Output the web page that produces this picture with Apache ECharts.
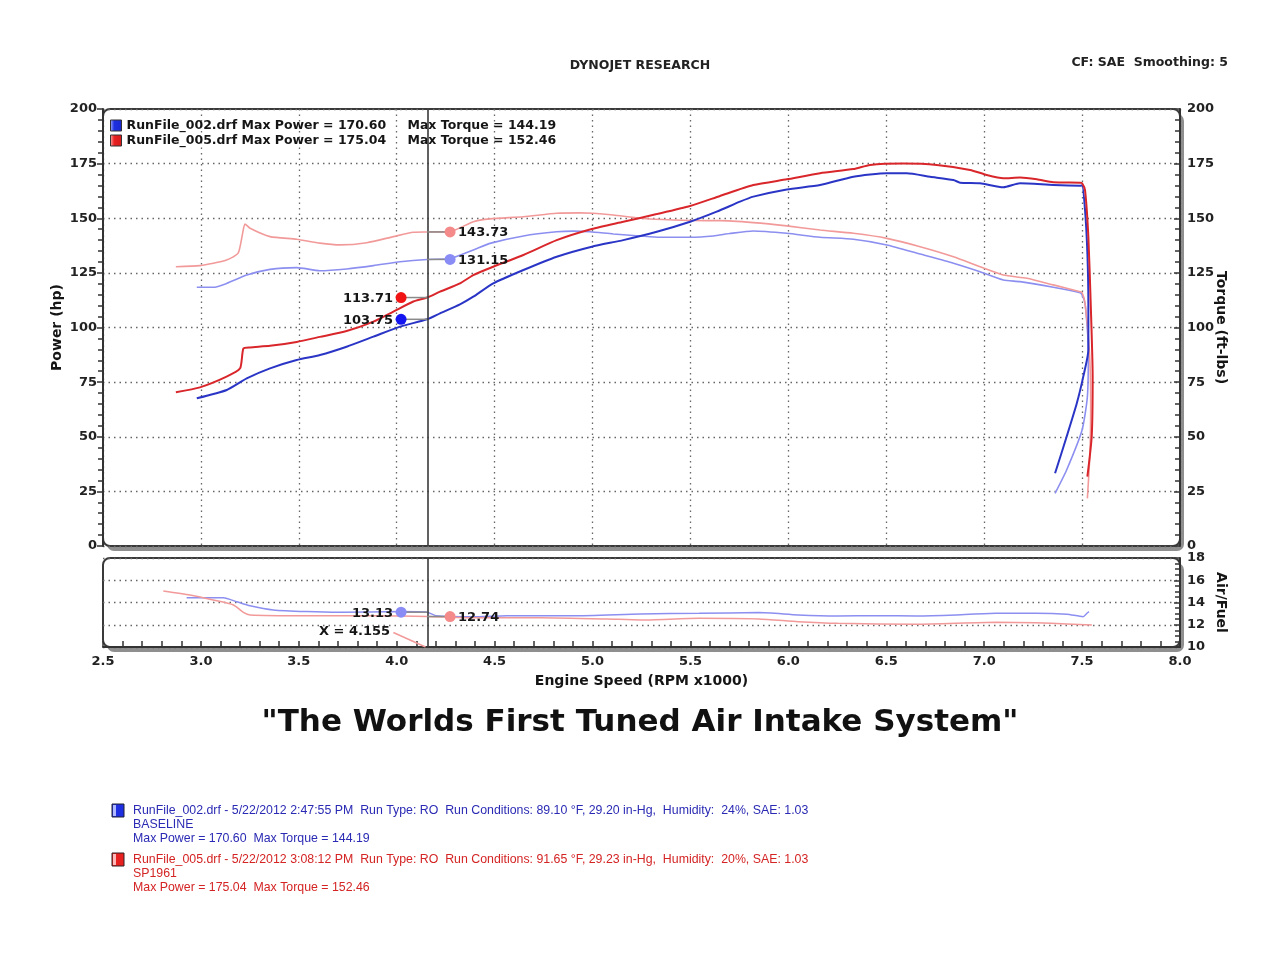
<!DOCTYPE html>
<html>
<head>
<meta charset="utf-8">
<script src="https://cdn.jsdelivr.net/npm/echarts@6/dist/echarts.min.js"></script>
<style>
html,body{margin:0;padding:0;background:#fff;}
#chart{width:1280px;height:960px;}
</style>
</head>
<body>
<div id="chart"></div>
<script>
// ---------------- DATA ----------------
const runFiles = ['RunFile_002.drf', 'RunFile_005.drf'];
const runLabels = ['BASELINE', 'SP1961'];
const runTimes = ['5/22/2012 2:47:55 PM', '5/22/2012 3:08:12 PM'];
const runTemps = ['89.10', '91.65'];
const runPressures = ['29.20', '29.23'];
const runHumidity = ['24%', '20%'];
const maxPower = [170.60, 175.04];
const maxTorque = [144.19, 152.46];

// [rpm x1000, hp]
const powerBaseline = [
  [2.979,67.6],[3.132,71.4],[3.234,76.7],[3.353,81.3],[3.489,85.1],[3.608,87.4],[3.744,91.2],
  [3.881,95.8],[4.017,100.4],[4.155,103.75],[4.221,106.5],[4.323,110.6],[4.391,114.1],[4.493,120.2],
  [4.647,126.3],[4.817,132.4],[4.996,137.0],[5.157,140.0],[5.328,143.8],[5.498,148.4],[5.634,153.0],
  [5.753,157.6],[5.821,159.9],[5.992,163.2],[6.162,165.2],[6.332,169.0],[6.503,170.6],[6.605,170.6],
  [6.724,169.0],[6.843,167.5],[6.877,166.3],[6.979,166.0],[7.098,164.2],[7.183,166.0],[7.353,165.2],
  [7.490,164.9],[7.500,165.0],[7.515,153.8],[7.527,134.0],[7.532,111.1],[7.532,89.7],[7.506,77.5],
  [7.473,65.3],[7.421,50.0],[7.362,33.3]
];
const powerSP1961 = [
  [2.872,70.4],[2.995,72.6],[3.131,77.5],[3.200,81.3],[3.217,90.4],[3.251,90.9],[3.353,91.6],
  [3.489,93.4],[3.608,95.7],[3.744,98.4],[3.881,102.7],[3.983,107.3],[4.085,111.9],[4.155,113.71],
  [4.221,116.4],[4.323,120.2],[4.391,124.0],[4.493,127.8],[4.647,133.2],[4.817,140.0],[4.996,145.1],
  [5.157,148.4],[5.328,151.9],[5.498,155.6],[5.651,160.2],[5.821,165.2],[5.992,167.8],[6.162,170.6],
  [6.332,172.5],[6.417,174.4],[6.587,175.04],[6.758,174.4],[6.928,172.1],[7.013,169.8],[7.098,168.3],
  [7.183,168.6],[7.269,167.8],[7.353,166.5],[7.490,166.3],[7.500,166.0],[7.515,162.9],[7.532,141.6],
  [7.544,111.1],[7.554,77.5],[7.549,50.0],[7.527,31.7]
];
// [rpm x1000, ft-lbs]
const torqueBaseline = [
  [2.979,118.4],[3.063,118.4],[3.132,120.2],[3.234,124.0],[3.353,126.6],[3.489,127.4],[3.608,126.0],
  [3.744,126.8],[3.881,128.3],[4.017,130.1],[4.155,131.15],[4.264,131.4],[4.391,135.5],[4.476,138.5],
  [4.647,141.9],[4.817,143.8],[4.902,144.1],[4.987,143.8],[5.106,142.8],[5.243,141.9],[5.345,141.3],
  [5.498,141.3],[5.617,141.9],[5.700,143.0],[5.821,144.19],[5.992,143.1],[6.162,141.3],[6.332,140.4],
  [6.503,137.8],[6.673,133.6],[6.843,129.4],[6.979,125.5],[7.098,121.7],[7.183,121.0],[7.353,118.4],
  [7.490,115.9],[7.500,114.9],[7.515,111.1],[7.527,98.9],[7.532,89.7],[7.527,68.3],[7.500,53.1],
  [7.421,34.8],[7.362,24.1]
];
const torqueSP1961 = [
  [2.872,127.8],[2.995,128.3],[3.131,130.9],[3.190,134.0],[3.213,143.1],[3.225,147.4],[3.251,145.4],
  [3.353,141.6],[3.489,140.4],[3.608,138.6],[3.710,137.8],[3.847,138.8],[3.983,141.6],[4.085,143.6],
  [4.155,143.73],[4.272,143.9],[4.391,148.4],[4.476,149.7],[4.647,150.7],[4.817,152.3],[4.936,152.46],
  [5.004,152.3],[5.106,151.5],[5.243,150.0],[5.413,149.2],[5.583,148.9],[5.651,148.9],[5.821,148.0],
  [5.992,146.5],[6.162,144.6],[6.332,143.1],[6.503,140.8],[6.673,137.0],[6.843,132.4],[6.979,127.8],
  [7.098,124.0],[7.218,122.5],[7.353,119.5],[7.490,116.4],[7.500,116.0],[7.515,111.1],[7.537,89.7],
  [7.544,65.3],[7.540,42.4],[7.527,21.8]
];
// [rpm x1000, air/fuel ratio]
const afrBaseline = [
  [2.927,14.43],[3.115,14.43],[3.183,14.07],[3.251,13.71],[3.370,13.33],[3.540,13.18],[3.710,13.12],
  [4.017,13.18],[4.155,13.13],[4.200,12.82],[4.391,12.72],[4.562,12.81],[4.902,12.81],[5.243,12.97],
  [5.545,13.03],[5.848,13.09],[6.050,12.88],[6.252,12.79],[6.454,12.81],[6.656,12.79],[6.858,12.88],
  [7.060,13.03],[7.262,13.03],[7.423,12.94],[7.505,12.73],[7.525,13.03],[7.535,13.18]
];
const afrSP1961 = [
  [2.808,15.03],[2.944,14.67],[3.063,14.22],[3.166,13.78],[3.217,13.12],[3.251,12.88],[3.540,12.81],
  [3.881,12.81],[4.155,12.74],[4.391,12.63],[4.732,12.63],[5.073,12.52],[5.243,12.43],[5.545,12.58],
  [5.848,12.52],[6.050,12.28],[6.252,12.13],[6.656,12.04],[7.060,12.22],[7.262,12.18],[7.423,12.07],
  [7.550,11.98]
];
const afrSP1961Tail = [[3.983,11.3],[4.147,10.0]];

// cursor readout
const cursorRpm = 4.155;
const cursorPower = [103.75, 113.71];   // baseline, SP1961
const cursorTorque = [131.15, 143.73];
const cursorAfr = [13.13, 12.74];

// axis ranges / ticks
const rpmRange = [2.5, 8.0, 0.5];
const mainRange = [0, 200, 25];
const afrRange = [10, 18, 2];

// ---------------- STYLE ----------------
const C = {
  powerB: '#2a35c6', powerS: '#d9262b',
  torqueB: '#8c8ff0', torqueS: '#f29a9a',
  afrB: '#8c8ff0', afrS: '#f29a9a',
  dotPowerB: '#1414f0', dotPowerS: '#f01414', dotTorqueB: '#8a8cf6', dotTorqueS: '#f58a8a'
};
const FONT = '"DejaVu Sans", Verdana, sans-serif';
const NOTE_FONT = '12.35px "Liberation Sans", Arial, sans-serif';
const G0 = {left: 103, top: 109, width: 1077, height: 437};
const G1 = {left: 103, top: 558, width: 1077, height: 89};
const dotted = {color: '#666', type: [1.5, 4], width: 1.3};
const axisLbl = {fontFamily: FONT, fontWeight: 'bold', fontSize: 13, color: '#222'};

const chart = echarts.init(document.getElementById('chart'), null, {renderer: 'canvas'});

function cursorItems(values, sides, colors) {
  return values.map((v, i) => ({value: [cursorRpm, v, sides[i]], color: colors[i]}));
}

function readoutSeries(name, xi, yi, items) {
  return {
    type: 'custom', name: name, xAxisIndex: xi, yAxisIndex: yi, z: 10, silent: true,
    data: items.map(d => ({value: d.value, itemStyle: {color: d.color}})),
    renderItem: function (params, api) {
      const x = api.value(0), y = api.value(1), side = api.value(2);
      const p = api.coord([x, y]);
      const off = side < 0 ? 26 : 23;
      const dx = p[0] + side * off;
      const col = api.visual('color');
      return {
        type: 'group', children: [
          {type: 'line', shape: {x1: p[0], y1: p[1], x2: dx, y2: p[1]}, style: {stroke: '#8a8a8a', lineWidth: 1.5}},
          {type: 'circle', shape: {cx: dx, cy: p[1], r: 5.5}, style: {fill: col}},
          {type: 'text', style: {text: y.toFixed(2), x: dx + side * 8, y: p[1] + 1,
            align: side < 0 ? 'right' : 'left', verticalAlign: 'middle',
            font: 'bold 13px ' + FONT, fill: '#151515'}}
        ]
      };
    }
  };
}

const cursorLine = {
  silent: true, symbol: ['none', 'none'], label: {show: false},
  lineStyle: {color: '#3a3a3a', type: 'solid', width: 1.6},
  data: [{xAxis: cursorRpm}], animation: false
};

function panel(g) {
  return [
    {type: 'rect', z: -11, shape: {x: g.left + 4, y: g.top + 5, width: g.width, height: g.height, r: 7},
     style: {fill: '#8f8f8f'}},
    {type: 'rect', z: -10, shape: {x: g.left, y: g.top, width: g.width, height: g.height, r: 7},
     style: {fill: '#fff', stroke: '#3a3a3a', lineWidth: 2}}
  ];
}

const nameStyle = {fontFamily: FONT, fontWeight: 'bold', fontSize: 14, color: '#151515'};

const option = {
  animation: false,
  backgroundColor: '#fff',
  title: [
    {text: 'DYNOJET RESEARCH', left: 'center', top: 54,
     textStyle: {fontFamily: FONT, fontWeight: 'bold', fontSize: 12.5, color: '#222'}},
    {text: 'CF: SAE  Smoothing: 5', right: 47, top: 51,
     textStyle: {fontFamily: FONT, fontWeight: 'bold', fontSize: 12.5, color: '#222'}},
    {text: '"The Worlds First Tuned Air Intake System"', left: 'center', top: 702,
     textStyle: {fontFamily: FONT, fontWeight: 'bold', fontSize: 31, color: '#111'}}
  ],
  legend: {
    left: 105, top: 114, orient: 'vertical', itemGap: 2, itemWidth: 11, itemHeight: 11,
    selectedMode: false,
    data: runFiles.map((n, i) => ({name: n, icon: 'rect',
      itemStyle: {color: new echarts.graphic.LinearGradient(0, 0, 1, 0, [
        {offset: 0, color: i === 0 ? '#a9b4ff' : '#ffb0b0'},
        {offset: 0.35, color: i === 0 ? '#1d2fe0' : '#e82020'},
        {offset: 1, color: i === 0 ? '#1a2ad0' : '#d61a1a'}]), borderColor: '#333', borderWidth: 1}})),
    formatter: function (name) {
      const i = runFiles.indexOf(name);
      return '{a|' + name + ' Max Power = ' + maxPower[i].toFixed(2) + '}{b|Max Torque = ' + maxTorque[i].toFixed(2) + '}';
    },
    textStyle: {
      fontFamily: FONT, fontWeight: 'bold', fontSize: 12.5, color: '#151515',
      rich: {
        a: {fontFamily: FONT, fontWeight: 'bold', fontSize: 12.5, color: '#151515', width: 281},
        b: {fontFamily: FONT, fontWeight: 'bold', fontSize: 12.5, color: '#151515'}
      }
    }
  },
  grid: [
    Object.assign({containLabel: false}, G0),
    Object.assign({containLabel: false}, G1)
  ],
  xAxis: [
    {gridIndex: 0, type: 'value', min: rpmRange[0], max: rpmRange[1], interval: rpmRange[2],
     axisLine: {show: false}, axisTick: {show: false}, axisLabel: {show: false},
     splitLine: {show: true, lineStyle: dotted}},
    {gridIndex: 1, type: 'value', min: rpmRange[0], max: rpmRange[1], interval: rpmRange[2],
     axisLine: {show: true, lineStyle: {color: '#333', width: 2}},
     axisTick: {show: true, inside: true, length: 6, lineStyle: {color: '#333', width: 1.5}},
     minorTick: {show: true, splitNumber: 5, length: 6, lineStyle: {color: '#333', width: 1.5}},
     axisLabel: Object.assign({margin: 8, formatter: v => v.toFixed(1)}, axisLbl),
     splitLine: {show: false},
     name: 'Engine Speed (RPM x1000)', nameLocation: 'middle', nameGap: 27, nameMoveOverlap: false,
     nameTextStyle: nameStyle}
  ],
  yAxis: [
    {gridIndex: 0, type: 'value', position: 'left', min: mainRange[0], max: mainRange[1], interval: mainRange[2],
     axisLine: {show: true, lineStyle: {color: '#333', width: 2}},
     axisTick: {show: true, length: 6, lineStyle: {color: '#333', width: 1.5}},
     minorTick: {show: true, splitNumber: 5, length: 5, lineStyle: {color: '#333', width: 1.5}},
     axisLabel: Object.assign({margin: 6}, axisLbl),
     splitLine: {show: true, lineStyle: dotted},
     name: 'Power (hp)', nameLocation: 'middle', nameGap: 39, nameRotate: 90, nameMoveOverlap: false,
     nameTextStyle: nameStyle},
    {gridIndex: 0, type: 'value', position: 'right', min: mainRange[0], max: mainRange[1], interval: mainRange[2],
     axisLine: {show: true, lineStyle: {color: '#333', width: 2}},
     axisTick: {show: true, length: 6, inside: true, lineStyle: {color: '#333', width: 1.5}},
     minorTick: {show: true, splitNumber: 5, length: 5, lineStyle: {color: '#333', width: 1.5}},
     axisLabel: Object.assign({margin: 7}, axisLbl),
     splitLine: {show: false},
     name: 'Torque (ft-lbs)', nameLocation: 'middle', nameGap: 34, nameRotate: -90, nameMoveOverlap: false,
     nameTextStyle: nameStyle},
    {gridIndex: 1, type: 'value', position: 'right', min: afrRange[0], max: afrRange[1], interval: afrRange[2],
     axisLine: {show: true, lineStyle: {color: '#333', width: 2}},
     axisTick: {show: true, length: 6, inside: true, lineStyle: {color: '#333', width: 1.5}},
     minorTick: {show: true, splitNumber: 4, length: 5, lineStyle: {color: '#333', width: 1.5}},
     axisLabel: Object.assign({margin: 7}, axisLbl),
     splitLine: {show: true, lineStyle: dotted},
     name: 'Air/Fuel', nameLocation: 'middle', nameGap: 34, nameRotate: -90, nameMoveOverlap: false,
     nameTextStyle: nameStyle}
  ],
  graphic: panel(G0).concat(panel(G1)).concat([
    // footer notes
    {type: 'rect', shape: {x: 112, y: 804, width: 12, height: 13}, style: {fill: '#1d2fe0', stroke: '#223', lineWidth: 1}},
    {type: 'rect', shape: {x: 113, y: 805, width: 3, height: 11}, style: {fill: '#b0b8ff'}},
    {type: 'rect', shape: {x: 112, y: 853, width: 12, height: 13}, style: {fill: '#e82020', stroke: '#322', lineWidth: 1}},
    {type: 'rect', shape: {x: 113, y: 854, width: 3, height: 11}, style: {fill: '#ffb8b8'}},
    {type: 'text', style: {x: 133, y: 811, verticalAlign: 'middle', fill: '#2a2ab4', font: NOTE_FONT,
      text: runFiles[0] + ' - ' + runTimes[0] + '  Run Type: RO  Run Conditions: ' + runTemps[0] + ' \u00B0F, ' + runPressures[0] + ' in-Hg,  Humidity:  ' + runHumidity[0] + ', SAE: 1.03'}},
    {type: 'text', style: {x: 133, y: 825, verticalAlign: 'middle', fill: '#2a2ab4', font: NOTE_FONT, text: runLabels[0]}},
    {type: 'text', style: {x: 133, y: 839, verticalAlign: 'middle', fill: '#2a2ab4', font: NOTE_FONT,
      text: 'Max Power = ' + maxPower[0].toFixed(2) + '  Max Torque = ' + maxTorque[0].toFixed(2)}},
    {type: 'text', style: {x: 133, y: 860, verticalAlign: 'middle', fill: '#d42424', font: NOTE_FONT,
      text: runFiles[1] + ' - ' + runTimes[1] + '  Run Type: RO  Run Conditions: ' + runTemps[1] + ' \u00B0F, ' + runPressures[1] + ' in-Hg,  Humidity:  ' + runHumidity[1] + ', SAE: 1.03'}},
    {type: 'text', style: {x: 133, y: 874, verticalAlign: 'middle', fill: '#d42424', font: NOTE_FONT, text: runLabels[1]}},
    {type: 'text', style: {x: 133, y: 888, verticalAlign: 'middle', fill: '#d42424', font: NOTE_FONT,
      text: 'Max Power = ' + maxPower[1].toFixed(2) + '  Max Torque = ' + maxTorque[1].toFixed(2)}}
  ]),
  series: [
    {name: runFiles[0], type: 'line', xAxisIndex: 0, yAxisIndex: 1, data: torqueBaseline, showSymbol: false, smooth: 0.2,
     lineStyle: {color: C.torqueB, width: 1.6}, itemStyle: {color: C.torqueB}, z: 3},
    {name: runFiles[1], type: 'line', xAxisIndex: 0, yAxisIndex: 1, data: torqueSP1961, showSymbol: false, smooth: 0.2,
     lineStyle: {color: C.torqueS, width: 1.6}, itemStyle: {color: C.torqueS}, z: 3},
    {name: runFiles[0], type: 'line', xAxisIndex: 0, yAxisIndex: 0, data: powerBaseline, showSymbol: false, smooth: 0.2,
     lineStyle: {color: C.powerB, width: 2}, itemStyle: {color: C.powerB}, z: 4, markLine: cursorLine},
    {name: runFiles[1], type: 'line', xAxisIndex: 0, yAxisIndex: 0, data: powerSP1961, showSymbol: false, smooth: 0.2,
     lineStyle: {color: C.powerS, width: 2}, itemStyle: {color: C.powerS}, z: 4},
    {name: 'afrB', type: 'line', xAxisIndex: 1, yAxisIndex: 2, data: afrBaseline, showSymbol: false, smooth: 0.2,
     lineStyle: {color: C.afrB, width: 1.5}, itemStyle: {color: C.afrB}, markLine: cursorLine},
    {name: 'afrS', type: 'line', xAxisIndex: 1, yAxisIndex: 2, data: afrSP1961, showSymbol: false, smooth: 0.2,
     lineStyle: {color: C.afrS, width: 1.5}, itemStyle: {color: C.afrS}},
    {name: 'afrSTail', type: 'line', xAxisIndex: 1, yAxisIndex: 2, data: afrSP1961Tail, showSymbol: false,
     lineStyle: {color: C.afrS, width: 1.5}, itemStyle: {color: C.afrS}},
    readoutSeries('powerReadout', 0, 0, cursorItems(cursorPower, [-1, -1], [C.dotPowerB, C.dotPowerS])),
    readoutSeries('torqueReadout', 0, 1, cursorItems(cursorTorque, [1, 1], [C.dotTorqueB, C.dotTorqueS])),
    readoutSeries('afrReadout', 1, 2, cursorItems(cursorAfr, [-1, 1], [C.dotTorqueB, C.dotTorqueS])),
    {type: 'custom', name: 'cursorX', xAxisIndex: 1, yAxisIndex: 2, silent: true, z: 10,
     data: [[cursorRpm, afrRange[0]]],
     renderItem: function (params, api) {
       const p = api.coord([api.value(0), api.value(1)]);
       return {type: 'text', style: {text: 'X = ' + api.value(0).toFixed(3), x: p[0] - 37, y: p[1] - 15,
         align: 'right', verticalAlign: 'middle', font: 'bold 13px ' + FONT, fill: '#151515'}};
     }}
  ]
};
chart.setOption(option);
</script>
</body>
</html>
